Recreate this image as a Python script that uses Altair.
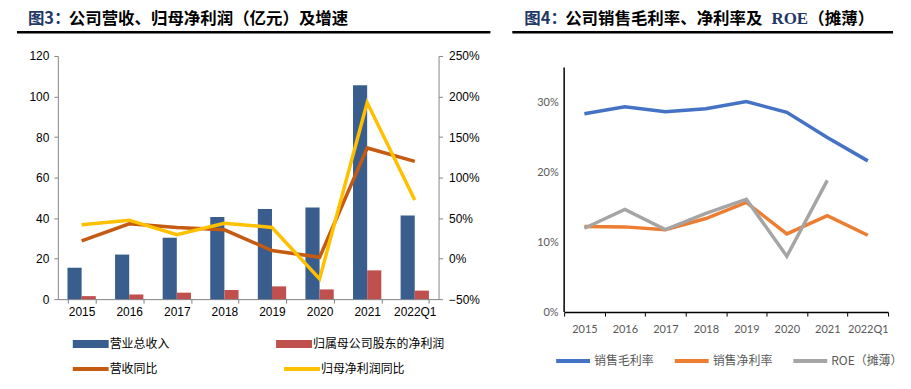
import altair as alt
import pandas as pd

years = ["2015", "2016", "2017", "2018", "2019", "2020", "2021", "2022Q1"]
revenue = [15.5, 22.0, 30.3, 40.5, 44.5, 45.2, 105.5, 41.3]
net_profit = [1.5, 2.3, 3.2, 4.5, 6.3, 4.8, 14.2, 4.2]
rev_yoy = [0.22, 0.43, 0.385, 0.355, 0.10, 0.016, 1.365, 1.20]
np_yoy = [0.417, 0.474, 0.294, 0.437, 0.384, -0.25, 1.925, 0.723]

gross_margin = [0.284, 0.294, 0.287, 0.291, 0.3015, 0.286, 0.250, 0.2165]
net_margin = [0.1225, 0.122, 0.118, 0.134, 0.157, 0.112, 0.138, 0.110]
roe = [0.120, 0.147, 0.118, 0.1415, 0.1615, 0.080, 0.1885, None]

bar_series = ["营业总收入", "归属母公司股东的净利润"]
bar_colors = ["#395E8D", "#C0504D"]
yoy_series = ["营收同比", "归母净利润同比"]
yoy_colors = ["#C55A11", "#FFC000"]
ratio_series = ["销售毛利率", "销售净利率", "ROE（摊薄）"]
ratio_colors = ["#4472C4", "#ED7D31", "#A5A5A5"]

CJK = "Noto Sans CJK SC"
NAVY = "#1F3864"
TITLE_Y = -37

bars_df = pd.DataFrame(
    [{"year": y, "series": bar_series[0], "value": v} for y, v in zip(years, revenue)]
    + [{"year": y, "series": bar_series[1], "value": v} for y, v in zip(years, net_profit)]
)
yoy_df = pd.DataFrame(
    [{"year": y, "series": yoy_series[0], "value": v} for y, v in zip(years, rev_yoy)]
    + [{"year": y, "series": yoy_series[1], "value": v} for y, v in zip(years, np_yoy)]
)
ratio_rows = []
for s, vals in zip(ratio_series, [gross_margin, net_margin, roe]):
    for y, v in zip(years, vals):
        if v is not None:
            ratio_rows.append({"year": y, "series": s, "value": v})
ratio_df = pd.DataFrame(ratio_rows)
dummy = pd.DataFrame({"d": [0]})
axis_df = pd.DataFrame({"lo": [0.0], "hi": [0.35]})

RECT_SYMBOL = "M-3,-0.67H3V0.67H-3Z"   # 36 x 8 px at size 144
LINE_SYMBOL_L = "M-4.5,0H4.5"          # 36 px long at size 64
LINE_SYMBOL_R = "M-4.25,0H4.25"        # 34 px long at size 64

# ---------------- left chart ----------------
xl = alt.X(
    "year:N", sort=years, title=None,
    scale=alt.Scale(paddingInner=0.405, paddingOuter=0.2025),
    axis=alt.Axis(labelAngle=0, tickBand="extent", tickSize=4, labelPadding=3,
                  domainColor="#7F7F7F", tickColor="#7F7F7F", labelColor="#000000",
                  labelFont="Liberation Sans", labelFontSize=12),
)

bars = alt.Chart(bars_df).mark_bar().encode(
    x=xl,
    xOffset=alt.XOffset("series:N", sort=bar_series, scale=alt.Scale(paddingInner=0, paddingOuter=0)),
    y=alt.Y("value:Q", title=None,
            scale=alt.Scale(domain=[0, 120], nice=False),
            axis=alt.Axis(values=list(range(0, 121, 20)), grid=False, tickSize=4, labelPadding=5,
                          domainColor="#868686", tickColor="#868686", labelColor="#000000",
                          labelFont="Liberation Sans", labelFontSize=12)),
    fill=alt.Fill("series:N", scale=alt.Scale(domain=bar_series, range=bar_colors),
                  legend=alt.Legend(orient="none", legendX=27, legendY=283, columns=2,
                                    columnPadding=106, title=None, padding=0,
                                    symbolType=RECT_SYMBOL, symbolSize=144,
                                    symbolStrokeWidth=0, labelOffset=13,
                                    labelFont=CJK, labelFontSize=12, labelColor="#000000")),
)

lines = alt.Chart(yoy_df).mark_line(strokeWidth=3.5).encode(
    x=alt.X("year:N", sort=years, title=None),
    y=alt.Y("value:Q", title=None,
            scale=alt.Scale(domain=[-0.5, 2.5], nice=False),
            axis=alt.Axis(orient="right", values=[-0.5, 0, 0.5, 1, 1.5, 2, 2.5], format=".0%",
                          grid=False, tickSize=4, labelPadding=6,
                          domainColor="#868686", tickColor="#868686", labelColor="#000000",
                          labelFont="Liberation Sans", labelFontSize=12)),
    stroke=alt.Stroke("series:N", scale=alt.Scale(domain=yoy_series, range=yoy_colors),
                      legend=alt.Legend(orient="none", legendX=27, legendY=308, columns=2,
                                        columnPadding=118, title=None, padding=0,
                                        symbolType=LINE_SYMBOL_L, symbolSize=64,
                                        symbolStrokeWidth=4, labelOffset=13,
                                        labelFont=CJK, labelFontSize=12, labelColor="#000000")),
)

base_l = alt.Chart(dummy)
top_guide_l = base_l.mark_rule(opacity=0, strokeWidth=1).encode(
    x=alt.value(0), x2=alt.value(10), y=alt.value(-54))
title_l1 = base_l.mark_text(align="left", baseline="middle", font=CJK, fontSize=16.5,
                            fontWeight="bold", color=NAVY).encode(
    x=alt.value(-30), y=alt.value(TITLE_Y), text=alt.value("图3："))
title_l2 = base_l.mark_text(align="left", baseline="middle", font=CJK, fontSize=16.5,
                            fontWeight="bold", color="#000000").encode(
    x=alt.value(11), y=alt.value(TITLE_Y), text=alt.value("公司营收、归母净利润（亿元）及增速"))
rule_l = base_l.mark_rule(color="#000000", strokeWidth=2.5).encode(
    x=alt.value(-41), x2=alt.value(434), y=alt.value(-23.7))

left = alt.layer(bars, lines, top_guide_l, title_l1, title_l2, rule_l).resolve_scale(
    y="independent").properties(width=382, height=244)

# ---------------- right chart ----------------
xr = alt.X(
    "year:N", sort=years, title=None,
    axis=alt.Axis(labelAngle=0, tickBand="extent", tickSize=4, labelPadding=7,
                  domainColor="#000000", tickColor="#000000", domainWidth=1.5,
                  labelColor="#595959", labelFont="Lato", labelFontSize=11),
)

rlines = alt.Chart(ratio_df).mark_line(strokeWidth=3.5).encode(
    x=xr,
    y=alt.Y("value:Q", title=None,
            scale=alt.Scale(domain=[0, 0.3667], nice=False),
            axis=alt.Axis(values=[0, 0.05, 0.1, 0.15, 0.2, 0.25, 0.3, 0.35], format=".0%",
                          grid=False, domain=False, ticks=False, labelPadding=6,
                          labelColor="#595959", labelFont="Lato", labelFontSize=11)),
    stroke=alt.Stroke("series:N", scale=alt.Scale(domain=ratio_series, range=ratio_colors),
                      legend=alt.Legend(orient="none", legendX=3, legendY=300, columns=3,
                                        columnPadding=12, title=None, padding=0,
                                        symbolType=LINE_SYMBOL_R, symbolSize=64,
                                        symbolStrokeWidth=4, labelOffset=15,
                                        labelFont=CJK, labelFontSize=12, labelColor="#595959")),
)

yaxis_line = alt.Chart(axis_df).mark_rule(color="#000000", strokeWidth=1.5).encode(
    x=alt.value(0), y=alt.Y("lo:Q", title=None), y2="hi:Q")

base_r = alt.Chart(dummy)
top_guide_r = base_r.mark_rule(opacity=0, strokeWidth=1).encode(
    x=alt.value(0), x2=alt.value(10), y=alt.value(-54))
title_r1 = base_r.mark_text(align="left", baseline="middle", font=CJK, fontSize=16.5,
                            fontWeight="bold", color=NAVY).encode(
    x=alt.value(-40), y=alt.value(TITLE_Y), text=alt.value("图4："))
title_r2 = base_r.mark_text(align="left", baseline="middle", font=CJK, fontSize=16.5,
                            fontWeight="bold", color="#000000").encode(
    x=alt.value(1), y=alt.value(TITLE_Y), text=alt.value("公司销售毛利率、净利率及"))
title_r3 = base_r.mark_text(align="left", baseline="middle", font="Liberation Serif", fontSize=17,
                            fontWeight="bold", color=NAVY).encode(
    x=alt.value(208), y=alt.value(TITLE_Y), text=alt.value("ROE"))
title_r4 = base_r.mark_text(align="left", baseline="middle", font=CJK, fontSize=16.5,
                            fontWeight="bold", color="#000000").encode(
    x=alt.value(245), y=alt.value(TITLE_Y), text=alt.value("（摊薄）"))
rule_r = base_r.mark_rule(color="#000000", strokeWidth=2.5).encode(
    x=alt.value(-52), x2=alt.value(330), y=alt.value(-23.7))

right = alt.layer(rlines, yaxis_line, top_guide_r, title_r1, title_r2, title_r3, title_r4,
                  rule_r).properties(width=325, height=257)

chart = alt.hconcat(left, right, spacing=18).resolve_scale(
    stroke="independent", fill="independent").properties(
    padding={"left": 7, "top": -6.5, "right": 0, "bottom": -1}
).configure_view(stroke=None)

chart.save("out.html", embed_options={"renderer": "svg", "actions": False})
